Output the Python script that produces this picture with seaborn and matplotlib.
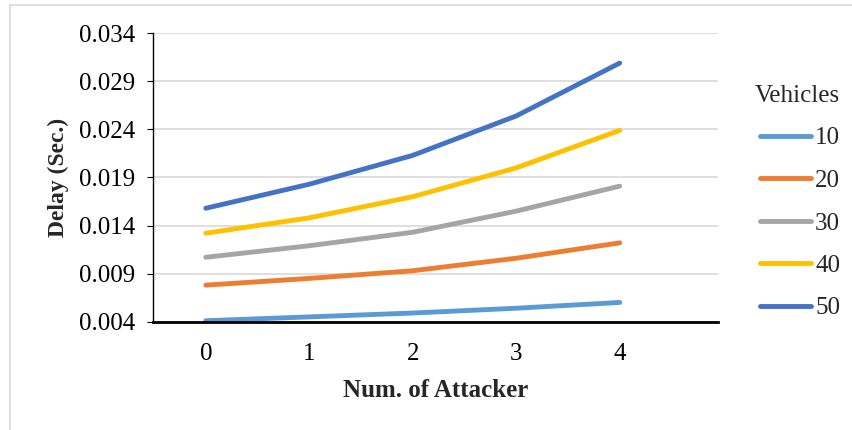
import pandas as pd
import matplotlib.pyplot as plt
import matplotlib.patches as mpatches
import seaborn as sns

# Delay vs number of attackers, one line per vehicle count
attackers = [0, 1, 2, 3, 4]
vehicles = ['10', '20', '30', '40', '50']
delay_10 = [0.0041, 0.0045, 0.0049, 0.0054, 0.0060]
delay_20 = [0.0078, 0.0085, 0.0093, 0.0106, 0.0122]
delay_30 = [0.0107, 0.0119, 0.0133, 0.0155, 0.0181]
delay_40 = [0.0132, 0.0148, 0.0170, 0.0200, 0.0239]
delay_50 = [0.0158, 0.0183, 0.0213, 0.0254, 0.0309]
y_ticks = [0.004, 0.009, 0.014, 0.019, 0.024, 0.029, 0.034]

colors = ['#5B9BD5', '#ED7D31', '#A5A5A5', '#FFC000', '#4472C4']

series = [delay_10, delay_20, delay_30, delay_40, delay_50]
rows = []
for v, vals in zip(vehicles, series):
    for a, d in zip(attackers, vals):
        rows.append({'Num. of Attacker': a, 'Delay': d, 'Vehicles': v})
df = pd.DataFrame(rows)

sns.set_style('white')
plt.rcParams['font.family'] = ['Liberation Serif', 'DejaVu Serif']

fig = plt.figure(figsize=(8.52, 4.3), dpi=100)
ax = fig.add_axes([0.1796, 0.2519, 0.8427 - 0.1796, 0.9226 - 0.2519])

# light chart frame (only top/left visible in the crop)
fig.patches.append(mpatches.Rectangle((10 / 852, -0.1), 2, 1.1 - 5 / 430,
                                      transform=fig.transFigure, fill=False,
                                      edgecolor='#D9D9D9', lw=1.2))

sns.lineplot(data=df, x='Num. of Attacker', y='Delay', hue='Vehicles',
             palette=colors, linewidth=3.5, ax=ax, legend=True,
             solid_capstyle='round')

ax.set_xlim(-0.51, 4.95)
ax.set_ylim(0.004, 0.034)
ax.set_yticks(y_ticks)
ax.set_yticklabels([f'{t:.3f}' for t in y_ticks])
ax.set_xticks(attackers)
ax.grid(axis='y', color='#D9D9D9', lw=1.2)
ax.set_axisbelow(True)

for s in ['top', 'right']:
    ax.spines[s].set_visible(False)
ax.spines['left'].set_color('black')
ax.spines['left'].set_linewidth(1.0)
ax.spines['bottom'].set_color('black')
ax.spines['bottom'].set_linewidth(2.0)

ax.tick_params(axis='y', which='major', left=True, length=4, width=0.8,
               labelsize=18, colors='black', pad=9)
ax.tick_params(axis='x', bottom=False, labelsize=18, colors='black', pad=12)

ax.set_xlabel('Num. of Attacker', fontsize=18, fontweight='bold', labelpad=10)
ax.set_ylabel('Delay (Sec.)', fontsize=17, fontweight='bold', labelpad=7)

leg = ax.legend(title='Vehicles', loc='upper left',
                bbox_to_anchor=(745 / 852, 1 - 75 / 430),
                bbox_transform=fig.transFigure, frameon=False,
                fontsize=18, title_fontsize=18, handlelength=2.05,
                handletextpad=0.16, labelspacing=0.8, borderaxespad=0)
leg._legend_box.align = 'right'
for line in leg.get_lines():
    line.set_linewidth(3.5)
    line.set_solid_capstyle('round')

fig.savefig('out.png', dpi=100)
